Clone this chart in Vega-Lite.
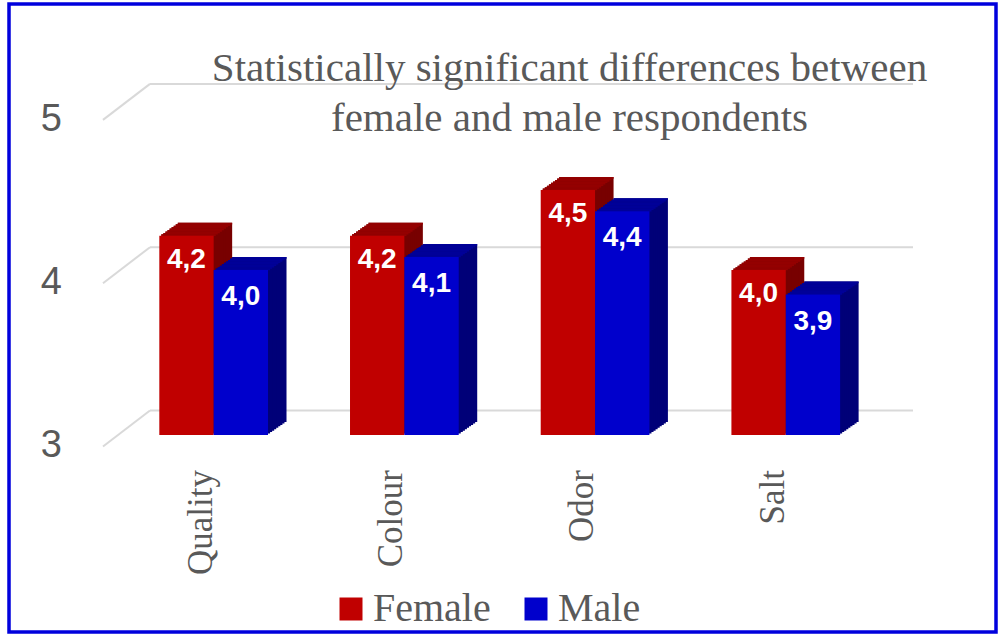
{
  "$schema": "https://vega.github.io/schema/vega-lite/v6.json",
  "width": 987,
  "height": 628,
  "autosize": "none",
  "padding": {"left": 9, "top": 4, "right": 3, "bottom": 2},
  "background": "white",
  "config": {
    "locale": {"number": {"decimal": ",", "thousands": ".", "grouping": [3], "currency": ["", ""]}},
    "view": {"stroke": "#0000dd", "strokeWidth": 3.5}
  },
  "title": {
    "text": ["Statistically significant differences between", "female and male respondents"],
    "font": "Liberation Serif",
    "fontSize": 41,
    "fontWeight": "normal",
    "color": "#595959",
    "anchor": "middle",
    "frame": "group",
    "baseline": "alphabetic",
    "lineHeight": 50,
    "offset": 0,
    "dx": 67,
    "dy": 168
  },
  "datasets": {
    "scores": [
      {"category": "Quality", "gender": "Female", "value": 4.22},
      {"category": "Quality", "gender": "Male", "value": 4.01},
      {"category": "Colour", "gender": "Female", "value": 4.22},
      {"category": "Colour", "gender": "Male", "value": 4.09},
      {"category": "Odor", "gender": "Female", "value": 4.5},
      {"category": "Odor", "gender": "Male", "value": 4.37},
      {"category": "Salt", "gender": "Female", "value": 4.01},
      {"category": "Salt", "gender": "Male", "value": 3.86}
    ],
    "ticks": [{"v": 3}, {"v": 4}, {"v": 5}],
    "cats": [{"category": "Quality"}, {"category": "Colour"}, {"category": "Odor"}, {"category": "Salt"}]
  },
  "layer": [
    {
      "data": {"name": "ticks"},
      "mark": {"type": "rule", "color": "#d9d9d9", "strokeWidth": 2, "xOffset": -63.66, "x2Offset": 127.24, "yOffset": -24.5},
      "encoding": {
        "x": {"datum": "Quality", "type": "nominal", "scale": {"domain": ["Quality", "Colour", "Odor", "Salt"], "paddingInner": 0.43, "paddingOuter": 0.8028, "align": 0.4909}, "axis": null},
        "x2": {"datum": "Salt"},
        "y": {"field": "v", "type": "quantitative", "scale": {"domain": [1.7936, 5.6393], "nice": false, "zero": false}, "axis": null}
      }
    },
    {
      "data": {"name": "ticks"},
      "mark": {"type": "rule", "color": "#d9d9d9", "strokeWidth": 2, "xOffset": -110.66, "x2Offset": -63.66, "yOffset": 11.5, "y2Offset": -24.5},
      "encoding": {
        "x": {"datum": "Quality", "type": "nominal", "scale": {"domain": ["Quality", "Colour", "Odor", "Salt"], "paddingInner": 0.43, "paddingOuter": 0.8028, "align": 0.4909}, "axis": null},
        "x2": {"datum": "Quality"},
        "y": {"field": "v", "type": "quantitative", "scale": {"domain": [1.7936, 5.6393], "nice": false, "zero": false}, "axis": null},
        "y2": {"field": "v"}
      }
    },
    {
      "data": {"name": "ticks"},
      "mark": {"type": "text", "xOffset": -151.66, "yOffset": 11.5, "align": "right", "baseline": "middle", "font": "Liberation Sans", "fontSize": 38, "color": "#595959"},
      "encoding": {
        "x": {"datum": "Quality", "type": "nominal", "scale": {"domain": ["Quality", "Colour", "Odor", "Salt"], "paddingInner": 0.43, "paddingOuter": 0.8028, "align": 0.4909}, "axis": null},
        "y": {"field": "v", "type": "quantitative", "scale": {"domain": [1.7936, 5.6393], "nice": false, "zero": false}, "axis": null},
        "text": {"field": "v", "type": "quantitative", "format": "d"}
      }
    },
    {
      "data": {"name": "cats"},
      "mark": {"type": "text", "angle": 270, "xOffset": -13, "yOffset": 35, "align": "right", "baseline": "middle", "font": "Liberation Serif", "fontSize": 35, "color": "#595959"},
      "encoding": {
        "x": {"field": "category", "type": "nominal", "scale": {"domain": ["Quality", "Colour", "Odor", "Salt"], "paddingInner": 0.43, "paddingOuter": 0.8028, "align": 0.4909}, "axis": null},
        "y": {"datum": 3, "type": "quantitative", "scale": {"domain": [1.7936, 5.6393], "nice": false, "zero": false}, "axis": null},
        "text": {"field": "category", "type": "nominal"}
      }
    },
    {
      "data": {"name": "scores"},
      "transform": [{"filter": "datum.gender === 'Female'"}],
      "encoding": {
        "x": {"field": "category", "type": "nominal", "scale": {"domain": ["Quality", "Colour", "Odor", "Salt"], "paddingInner": 0.43, "paddingOuter": 0.8028, "align": 0.4909}, "axis": null},
        "y": {"field": "value", "type": "quantitative", "scale": {"domain": [1.7936, 5.6393], "nice": false, "zero": false}, "axis": null}
      },
      "layer": [
        {"mark": {"type": "bar", "width": {"band": 0.5}, "color": "#780000", "xOffset": -8.675, "yOffset": -13, "y2Offset": -13}, "encoding": {"y2": {"datum": 3}}},
        {"mark": {"type": "bar", "width": {"band": 0.5}, "color": "#780000", "xOffset": -10.735, "yOffset": -11.56, "y2Offset": -11.56}, "encoding": {"y2": {"datum": 3}}},
        {"mark": {"type": "bar", "width": {"band": 0.5}, "color": "#780000", "xOffset": -12.785, "yOffset": -10.11, "y2Offset": -10.11}, "encoding": {"y2": {"datum": 3}}},
        {"mark": {"type": "bar", "width": {"band": 0.5}, "color": "#780000", "xOffset": -14.845, "yOffset": -8.67, "y2Offset": -8.67}, "encoding": {"y2": {"datum": 3}}},
        {"mark": {"type": "bar", "width": {"band": 0.5}, "color": "#780000", "xOffset": -16.895, "yOffset": -7.22, "y2Offset": -7.22}, "encoding": {"y2": {"datum": 3}}},
        {"mark": {"type": "bar", "width": {"band": 0.5}, "color": "#780000", "xOffset": -18.955, "yOffset": -5.78, "y2Offset": -5.78}, "encoding": {"y2": {"datum": 3}}},
        {"mark": {"type": "bar", "width": {"band": 0.5}, "color": "#780000", "xOffset": -21.005, "yOffset": -4.33, "y2Offset": -4.33}, "encoding": {"y2": {"datum": 3}}},
        {"mark": {"type": "bar", "width": {"band": 0.5}, "color": "#780000", "xOffset": -23.065, "yOffset": -2.89, "y2Offset": -2.89}, "encoding": {"y2": {"datum": 3}}},
        {"mark": {"type": "bar", "width": {"band": 0.5}, "color": "#780000", "xOffset": -25.115, "yOffset": -1.44, "y2Offset": -1.44}, "encoding": {"y2": {"datum": 3}}},
        {"mark": {"type": "bar", "width": {"band": 0.5}, "color": "#940000", "xOffset": -8.675, "yOffset": -13, "y2Offset": -11.3}, "encoding": {"y2": {"field": "value"}}},
        {"mark": {"type": "bar", "width": {"band": 0.5}, "color": "#940000", "xOffset": -10.735, "yOffset": -11.56, "y2Offset": -9.86}, "encoding": {"y2": {"field": "value"}}},
        {"mark": {"type": "bar", "width": {"band": 0.5}, "color": "#940000", "xOffset": -12.785, "yOffset": -10.11, "y2Offset": -8.41}, "encoding": {"y2": {"field": "value"}}},
        {"mark": {"type": "bar", "width": {"band": 0.5}, "color": "#940000", "xOffset": -14.845, "yOffset": -8.67, "y2Offset": -6.97}, "encoding": {"y2": {"field": "value"}}},
        {"mark": {"type": "bar", "width": {"band": 0.5}, "color": "#940000", "xOffset": -16.895, "yOffset": -7.22, "y2Offset": -5.52}, "encoding": {"y2": {"field": "value"}}},
        {"mark": {"type": "bar", "width": {"band": 0.5}, "color": "#940000", "xOffset": -18.955, "yOffset": -5.78, "y2Offset": -4.08}, "encoding": {"y2": {"field": "value"}}},
        {"mark": {"type": "bar", "width": {"band": 0.5}, "color": "#940000", "xOffset": -21.005, "yOffset": -4.33, "y2Offset": -2.63}, "encoding": {"y2": {"field": "value"}}},
        {"mark": {"type": "bar", "width": {"band": 0.5}, "color": "#940000", "xOffset": -23.065, "yOffset": -2.89, "y2Offset": -1.19}, "encoding": {"y2": {"field": "value"}}},
        {"mark": {"type": "bar", "width": {"band": 0.5}, "color": "#940000", "xOffset": -25.115, "yOffset": -1.44, "y2Offset": 0.26}, "encoding": {"y2": {"field": "value"}}},
        {
          "mark": {"type": "bar", "width": {"band": 0.5}, "xOffset": -27.175},
          "encoding": {
            "y2": {"datum": 3},
            "color": {
              "field": "gender", "type": "nominal",
              "scale": {"domain": ["Female", "Male"], "range": ["#c00000", "#0000cc"]},
              "legend": {"orient": "none", "legendX": 322, "legendY": 585, "direction": "horizontal", "title": null, "symbolType": "square", "symbolSize": 529, "symbolStrokeWidth": 0, "symbolOpacity": 1, "labelFont": "Liberation Serif", "labelFontSize": 40, "labelColor": "#595959", "labelOffset": 2, "columnPadding": 25, "padding": 0, "labelLimit": 300}
            }
          }
        },
        {
          "mark": {"type": "text", "xOffset": -27.175, "dy": 24, "baseline": "middle", "align": "center", "font": "Liberation Sans", "fontWeight": "bold", "fontSize": 28, "color": "white"},
          "encoding": {"text": {"field": "value", "type": "quantitative", "format": ".1f"}}
        }
      ]
    },
    {
      "data": {"name": "scores"},
      "transform": [{"filter": "datum.gender === 'Male'"}],
      "encoding": {
        "x": {"field": "category", "type": "nominal", "scale": {"domain": ["Quality", "Colour", "Odor", "Salt"], "paddingInner": 0.43, "paddingOuter": 0.8028, "align": 0.4909}, "axis": null},
        "y": {"field": "value", "type": "quantitative", "scale": {"domain": [1.7936, 5.6393], "nice": false, "zero": false}, "axis": null}
      },
      "layer": [
        {"mark": {"type": "bar", "width": {"band": 0.5}, "color": "#000078", "xOffset": 45.675, "yOffset": -13, "y2Offset": -13}, "encoding": {"y2": {"datum": 3}}},
        {"mark": {"type": "bar", "width": {"band": 0.5}, "color": "#000078", "xOffset": 43.615, "yOffset": -11.56, "y2Offset": -11.56}, "encoding": {"y2": {"datum": 3}}},
        {"mark": {"type": "bar", "width": {"band": 0.5}, "color": "#000078", "xOffset": 41.565, "yOffset": -10.11, "y2Offset": -10.11}, "encoding": {"y2": {"datum": 3}}},
        {"mark": {"type": "bar", "width": {"band": 0.5}, "color": "#000078", "xOffset": 39.505, "yOffset": -8.67, "y2Offset": -8.67}, "encoding": {"y2": {"datum": 3}}},
        {"mark": {"type": "bar", "width": {"band": 0.5}, "color": "#000078", "xOffset": 37.455, "yOffset": -7.22, "y2Offset": -7.22}, "encoding": {"y2": {"datum": 3}}},
        {"mark": {"type": "bar", "width": {"band": 0.5}, "color": "#000078", "xOffset": 35.395, "yOffset": -5.78, "y2Offset": -5.78}, "encoding": {"y2": {"datum": 3}}},
        {"mark": {"type": "bar", "width": {"band": 0.5}, "color": "#000078", "xOffset": 33.345, "yOffset": -4.33, "y2Offset": -4.33}, "encoding": {"y2": {"datum": 3}}},
        {"mark": {"type": "bar", "width": {"band": 0.5}, "color": "#000078", "xOffset": 31.285, "yOffset": -2.89, "y2Offset": -2.89}, "encoding": {"y2": {"datum": 3}}},
        {"mark": {"type": "bar", "width": {"band": 0.5}, "color": "#000078", "xOffset": 29.235, "yOffset": -1.44, "y2Offset": -1.44}, "encoding": {"y2": {"datum": 3}}},
        {"mark": {"type": "bar", "width": {"band": 0.5}, "color": "#000098", "xOffset": 45.675, "yOffset": -13, "y2Offset": -11.3}, "encoding": {"y2": {"field": "value"}}},
        {"mark": {"type": "bar", "width": {"band": 0.5}, "color": "#000098", "xOffset": 43.615, "yOffset": -11.56, "y2Offset": -9.86}, "encoding": {"y2": {"field": "value"}}},
        {"mark": {"type": "bar", "width": {"band": 0.5}, "color": "#000098", "xOffset": 41.565, "yOffset": -10.11, "y2Offset": -8.41}, "encoding": {"y2": {"field": "value"}}},
        {"mark": {"type": "bar", "width": {"band": 0.5}, "color": "#000098", "xOffset": 39.505, "yOffset": -8.67, "y2Offset": -6.97}, "encoding": {"y2": {"field": "value"}}},
        {"mark": {"type": "bar", "width": {"band": 0.5}, "color": "#000098", "xOffset": 37.455, "yOffset": -7.22, "y2Offset": -5.52}, "encoding": {"y2": {"field": "value"}}},
        {"mark": {"type": "bar", "width": {"band": 0.5}, "color": "#000098", "xOffset": 35.395, "yOffset": -5.78, "y2Offset": -4.08}, "encoding": {"y2": {"field": "value"}}},
        {"mark": {"type": "bar", "width": {"band": 0.5}, "color": "#000098", "xOffset": 33.345, "yOffset": -4.33, "y2Offset": -2.63}, "encoding": {"y2": {"field": "value"}}},
        {"mark": {"type": "bar", "width": {"band": 0.5}, "color": "#000098", "xOffset": 31.285, "yOffset": -2.89, "y2Offset": -1.19}, "encoding": {"y2": {"field": "value"}}},
        {"mark": {"type": "bar", "width": {"band": 0.5}, "color": "#000098", "xOffset": 29.235, "yOffset": -1.44, "y2Offset": 0.26}, "encoding": {"y2": {"field": "value"}}},
        {
          "mark": {"type": "bar", "width": {"band": 0.5}, "xOffset": 27.175},
          "encoding": {
            "y2": {"datum": 3},
            "color": {
              "field": "gender", "type": "nominal",
              "scale": {"domain": ["Female", "Male"], "range": ["#c00000", "#0000cc"]},
              "legend": {"orient": "none", "legendX": 322, "legendY": 585, "direction": "horizontal", "title": null, "symbolType": "square", "symbolSize": 529, "symbolStrokeWidth": 0, "symbolOpacity": 1, "labelFont": "Liberation Serif", "labelFontSize": 40, "labelColor": "#595959", "labelOffset": 2, "columnPadding": 25, "padding": 0, "labelLimit": 300}
            }
          }
        },
        {
          "mark": {"type": "text", "xOffset": 27.175, "dy": 27, "baseline": "middle", "align": "center", "font": "Liberation Sans", "fontWeight": "bold", "fontSize": 28, "color": "white"},
          "encoding": {"text": {"field": "value", "type": "quantitative", "format": ".1f"}}
        }
      ]
    }
  ]
}
